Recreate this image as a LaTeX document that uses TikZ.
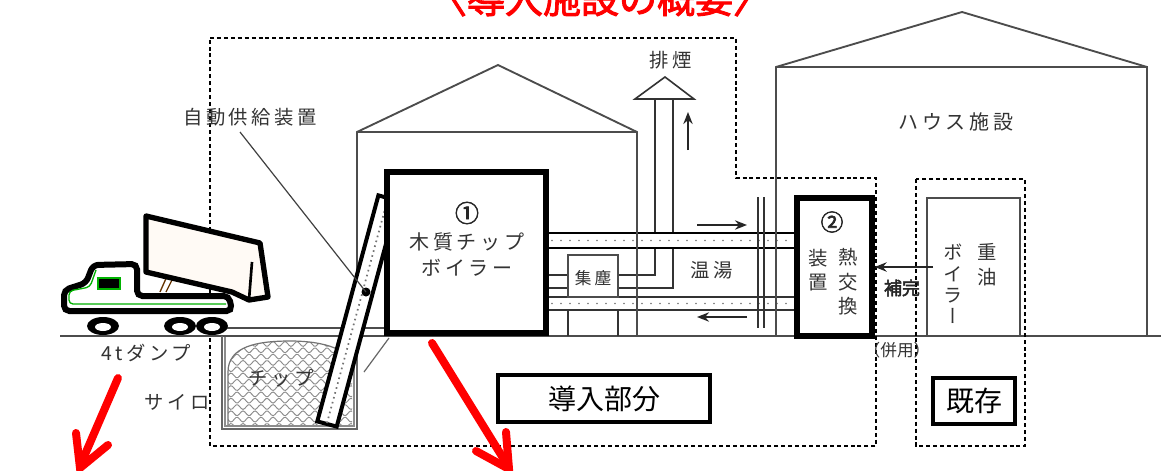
\documentclass[tikz,border=0pt]{standalone}
\usepackage{fontspec}
\newfontfamily\jp{Noto Sans CJK JP}[LetterSpace=18]
\newfontfamily\jpn{Noto Sans CJK JP}
\newfontfamily\jpbold{Noto Sans CJK JP}[FakeBold=2.5]
\newfontfamily\jpv{Noto Sans CJK JP}[RawFeature=+vert]
\usetikzlibrary{arrows.meta}

\begin{document}
\begin{tikzpicture}[x=0.75pt,y=-0.75pt,
  wall/.style={draw=black!70, line width=1.4pt},
  heavybox/.style={draw=black, line width=3.8pt, fill=white, inner sep=0pt, outer sep=0pt},
  framebox/.style={draw=black, line width=2.4pt, fill=white, inner sep=0pt, outer sep=0pt},
  plainbox/.style={draw=black!70, line width=1.4pt, fill=white, inner sep=0pt, outer sep=0pt},
  zone/.style={draw=black, line width=0.8pt, dash pattern=on 3pt off 2.2pt},
  lbl/.style={text=black!80, inner sep=0pt, font=\jp\fontsize{14.5}{17}\selectfont},
  vlbl/.style={text=black!80, inner sep=0pt, align=center, font=\jpv\fontsize{14.5}{18.5}\selectfont},
  pipeline/.style={draw=black, line width=2pt},
  thinpipe/.style={draw=black!80, line width=1.2pt},
  flow/.style={draw=black!85, line width=1.5pt, -{Stealth[length=9pt,width=7pt]}},
  pointer/.style={draw=red, line width=6pt, line cap=round, line join=miter},
]
\useasboundingbox (0,0) rectangle (1161,471);
\clip (0,0) rectangle (1161,471);
\fill[white] (0,0) rectangle (1161,471);

% heading, cut by the top edge
\node[text=red, font=\jpbold\fontsize{28.5}{32}\selectfont, anchor=base, inner sep=0pt] (title) at (600,13) {〈導入施設の概要〉};

% ground
\draw[wall, line width=1.2pt] (60,336) -- (1161,336);
\draw[wall, line width=1.1pt] (227,328) -- (387,328);

% boiler building and greenhouse
\draw[wall] (357,336) -- (357,132) -- (498,65) -- (637,132) -- (637,336);
\draw[wall] (357,132) -- (637,132);
\draw[wall] (776,336) -- (776,67) -- (962,12) -- (1147,67) -- (1147,336);
\draw[wall] (776,67) -- (1147,67);

% project areas
\draw[zone] (210,38) -- (736,38) -- (736,178) -- (876,178) -- (876,446) -- (210,446) -- cycle;
\draw[zone] (916,179) rectangle (1025,446);

% silo with chip pile
\draw[draw=black!60, line width=1.2pt] (222,336) -- (222,429) -- (357,429) -- (357,336);
\draw[draw=black!45, line width=0.8pt] (225,337) -- (225,426) -- (354,426) -- (354,337);
\begin{scope}
  \clip (228,425) -- (228,372) .. controls (228,346) and (258,341) .. (290,341)
        .. controls (325,341) and (352,350) .. (352,368) -- (352,425) -- cycle;
  \foreach \r in {0,...,13} {
    \draw[black!45, line width=0.7pt] plot[domain=220:360, samples=80]
      (\x, {344+\r*6.3 + 2.4*sin((\x+\r*6)*30)});
  }
\end{scope}
\draw[black!55, line width=0.9pt] (228,425) -- (228,372) .. controls (228,346) and (258,341) .. (290,341)
      .. controls (325,341) and (352,350) .. (352,368);
\node[lbl] (chiplbl) at (281,378) {チップ};

% chip feeder (inclined conveyor)
\draw[draw=black, line width=3pt, fill=white] (317.3,421.4) -- (336.7,426.6) -- (397.7,200.6) -- (378.4,195.4) -- cycle;
\draw[black!55, line width=1.3pt, dash pattern=on 1.2pt off 2.6pt] (327,423) -- (388,198);
\coordinate (feedpt) at (366,292);
\fill (feedpt) circle (4.5);
\coordinate (chute) at (364,372);
\coordinate (chutetop) at (389,338);
\draw[black!60, line width=0.9pt] (chute) -- (chutetop);
\node[lbl] (feedlbl) at (250,117) {自動供給装置};
\coordinate (leadstart) at (240,132);
\draw[black!75, line width=0.9pt] (leadstart) -- (feedpt);

% flue gas line
\draw[thinpipe] (547,275) -- (568,275);
\draw[thinpipe] (547,288) -- (568,288);
\draw[thinpipe] (618,275) -- (655,275) -- (655,99);
\draw[thinpipe] (618,288) -- (673,288) -- (673,99);
\draw[thinpipe, fill=white] (635,99) -- (665,77) -- (694,99) -- cycle;
\coordinate (smokeA) at (688,150);
\coordinate (smokeB) at (688,112);
\draw[flow] (smokeA) -- (smokeB);
\node[lbl] (smoke) at (671,60) {排煙};

% hot water pipes
\fill[white] (547,233) rectangle (797,248);
\foreach \x in {552,561,...,795} \fill[black!55] (\x,240.5) circle (0.9);
\draw[pipeline] (547,233) -- (797,233);
\draw[pipeline] (547,248) -- (797,248);
\fill[white] (547,297) rectangle (797,310);
\foreach \x in {552,561,...,795} \fill[black!55] (\x,303.5) circle (0.9);
\draw[thinpipe] (547,297) -- (797,297);
\draw[thinpipe] (547,310) -- (797,310);

% dust collector
\node[plainbox, minimum width=37.5pt, minimum height=31.5pt] (dust) at (593,276) {};
\node[lbl, font=\jp\fontsize{12.5}{15}\selectfont] (dustlbl) at (593,278) {集塵};
\draw[thinpipe] (568,310) -- (568,336);
\draw[thinpipe] (618,310) -- (618,336);

\node[lbl] (water) at (712,270) {温湯};
\coordinate (supA) at (697,225);
\coordinate (supB) at (747,225);
\coordinate (retA) at (747,317);
\coordinate (retB) at (697,317);
\draw[flow] (supA) -- (supB);
\draw[flow] (retA) -- (retB);

% wall penetration and greenhouse wall over the pipes
\draw[black!80, line width=1.1pt] (758,197) -- (758,328);
\draw[black!80, line width=1.1pt] (764,197) -- (764,328);
\draw[wall] (776,67) -- (776,336);
\draw[wall] (637,132) -- (637,336);

% wood chip boiler
\node[heavybox, minimum width=119.25pt, minimum height=120.75pt] (boiler) at (466.5,252.5) {};
\node[text=black!85, inner sep=0pt, font=\jpbold\fontsize{18}{20}\selectfont] (b1) at (467,213) {①};
\node[lbl, font=\jp\fontsize{15}{17}\selectfont] (b2) at (467,242) {木質チップ};
\node[lbl, font=\jp\fontsize{15}{17}\selectfont] (b3) at (467,268) {ボイラー};

% heat exchanger
\node[heavybox, minimum width=56.25pt, minimum height=103.5pt] (hx) at (834.5,267) {};
\node[text=black!85, inner sep=0pt, font=\jpbold\fontsize{17}{19}\selectfont] (h1) at (832,222) {②};
\node[vlbl] (h2) at (848,282) {熱\\交\\換};
\node[vlbl] (h3) at (818,270) {装\\置};

% existing heavy oil boiler
\node[plainbox, minimum width=69.75pt, minimum height=103.5pt] (oil) at (973.5,267) {};
\node[vlbl] (o1) at (987,265) {重\\油};
\node[vlbl, font=\jpv\fontsize{14.5}{16}\selectfont] (o2) at (953,284) {ボ\\イ\\ラ\\ー};
\draw[flow] ([xshift=4.5pt]oil.west) -- ([xshift=2pt]hx.east);
\node[lbl, font=\jpbold\fontsize{13.5}{16}\selectfont, text=black!85] (aux) at (902,288) {補完};
\node[lbl, font=\jpn\fontsize{12.5}{15}\selectfont] (both) at (897,350) {（併用）};

\node[lbl, font=\jp\fontsize{15}{17}\selectfont] (house) at (956,122) {ハウス施設};

% area captions
\node[framebox, minimum width=159pt, minimum height=35.25pt, font=\jpn\fontsize{21}{24}\selectfont] (newpart) at (604,398.5) {導入部分};
\node[framebox, minimum width=61.5pt, minimum height=34.5pt, font=\jpn\fontsize{21}{24}\selectfont] (oldpart) at (974,401) {既存};

% dump truck
\draw[black!60!orange, line width=1pt] (160,292) -- (168,274);
\draw[black!60!orange, line width=1pt] (166,292) -- (174,276);
\draw[black, line width=4pt, fill=orange!4, line join=round]
  (146,216) -- (260,243) -- (268,297) -- (249,300) -- (232,292) -- (146,272) -- cycle;
\draw[black, line width=2pt] (249,300) -- (252,262);
\draw[black, line width=4.5pt, fill=white, rounded corners=4pt]
  (64,311) -- (64,290) -- (86,283) -- (93,265) -- (137,264) -- (137,296) -- (229,296) -- (232,311) -- cycle;
\draw[green!70!black, line width=1pt, rounded corners=3pt] (96,270) -- (90,287) -- (69,291) -- (69,304) -- (226,304);
\draw[green!70!black, line width=0.8pt, fill=black] (98,278) rectangle (120,289);
\foreach \wx in {103,180,212} {
  \fill[black] (\wx,326) ellipse [x radius=16, y radius=9];
  \fill[white] (\wx,327) ellipse [x radius=8, y radius=4];
}
\node[lbl] (dump) at (146,353) {4tダンプ};
\node[lbl] (silo) at (177,402) {サイロ};

% red pointers
\draw[pointer] (118,378) -- (80,466);
\draw[pointer] (76,433) -- (80,468) -- (108,445);
\draw[pointer] (432,343) -- (508,466);
\draw[pointer] (476,451) -- (509,469) -- (506,432);
\end{tikzpicture}
\end{document}
